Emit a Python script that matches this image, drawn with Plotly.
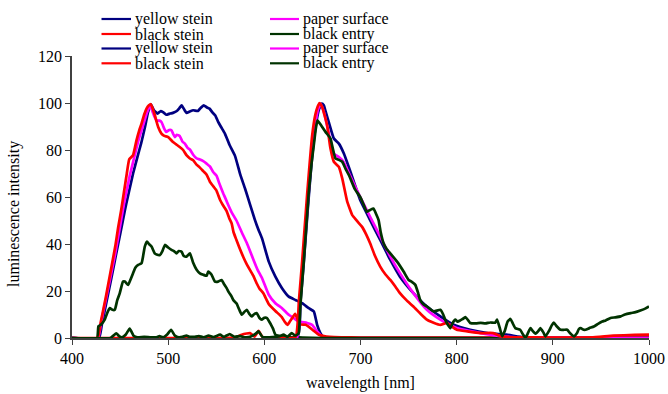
import plotly.graph_objects as go

# ---------------- data ----------------
# Excitation set 1 (blue excitation)
yellow1_wl = [400, 428, 431, 436, 441, 446, 450, 455, 458, 463.5, 468, 472, 476, 479, 482, 485, 489, 492,
              495, 498, 502, 505, 509, 512, 514, 517, 519, 523, 526, 531, 534, 537, 540, 543, 546, 549, 552, 555,
              559, 564, 569.5, 575, 580, 585, 590, 594, 597.6, 604.6, 611.5, 618.4, 625.4, 632.3, 639.3, 646.2,
              651.5, 654.9, 658.3, 661.8, 665, 700, 800, 900, 1000]
yellow1_val = [0, 0, 5.6, 15.6, 25.6, 36, 44, 54.4, 60, 70, 77, 83, 90, 96, 99.4, 97, 95.5, 96.5,
               96, 95, 95.5, 95.8, 96.6, 98, 99, 97, 95.8, 96.5, 96.9, 96.6, 98, 99, 98.2, 97.6, 96, 94.7, 92, 89.8,
               87, 82, 77.5, 69.5, 63.5, 57, 50.5, 46, 42.4, 32.5, 26.1, 21.2, 17.6, 16.2, 14.8, 12.7,
               11.3, 5.6, 2.1, 0.2, 0, 0, 0, 0, 0]

paper1_wl = [400, 427, 430, 435, 440, 445, 448, 451, 454, 457, 460, 463, 466, 469, 472, 475, 478,
             481.5, 484, 486, 488, 491, 493, 496, 498, 501, 503.5, 505, 507, 509, 512, 515, 517.4, 520, 522.6, 526,
             529.6, 533, 536.5, 540, 543.4, 547, 550.4, 553, 557.3, 560, 562.5, 566, 571, 576.5, 581.7, 588.5,
             593, 597.6, 604.6, 611.5, 618.4, 625.4, 630.6, 635.8, 644.5, 649.7, 654.9, 660, 665, 700, 800, 900,
             1000]
paper1_val = [0, 0, 6, 16, 26, 36, 43, 50, 57, 63, 69, 74, 79, 84, 88, 92, 96,
              99, 96, 94, 92.6, 92.5, 91.9, 89, 87.7, 88.5, 88.4, 87, 85.5, 86.5, 86, 83.5, 82.7, 81, 80.2, 78,
              76.4, 76, 75.3, 74.2, 73, 70.5, 69, 66, 61.5, 59, 56.6, 53.5, 50, 45, 40.5, 33.5,
              29, 25.5, 18.4, 14.8, 12.7, 9.9, 8.5, 7, 6.4, 5.6, 2.8, 0.7, 0, 0, 0, 0, 0]

blackstein1_wl = [400, 426.5, 430, 435, 440, 445, 448, 451, 454, 457, 459.5, 463.5, 467, 470,
                  472.3, 475, 477.5, 480, 482, 484, 486, 488, 489.6, 493, 496, 500, 505, 508, 512, 515.6, 519,
                  522.6, 526, 529, 533, 536.5, 540, 543.4, 547, 550, 554, 557, 560.8, 563.5, 566, 568, 571, 574,
                  578, 581, 585, 588.5, 592, 595, 599, 604.5, 611.5, 618, 621, 624, 626.5, 629, 632, 634,
                  637.5, 643, 650, 656.6, 662, 668, 680, 700, 800, 1000]
blackstein1_val = [0, 0, 7, 17, 28, 39, 47, 54, 62, 70, 76, 77.8, 84, 88.5,
                   91.2, 95, 97.6, 99, 99.5, 97.5, 95, 92, 89.8, 87, 86, 85.5, 83.4, 82.5, 81.3, 80, 77.8,
                   76.4, 75.6, 74, 72.5, 71, 69.5, 66.5, 64.5, 62.9, 58.7, 56.5, 54, 51, 48.8, 45, 41.7, 38.5,
                   34.6, 32, 29, 26.5, 23.3, 21, 19, 14.5, 11.5, 9, 7, 5.6, 7, 8.5, 10.3, 8.5,
                   5.8, 5.6, 3.5, 1.4, 0.8, 0.5, 0.3, 0.2, 0.2, 0.2]

blackentry1_wl = [400, 426, 427.5, 430, 434, 437, 439.3, 442, 444.5, 447, 449.7, 453, 455, 458.4, 461, 463.5, 466,
                  468.8, 472.3, 474, 475.7, 478, 480, 482.7, 486, 488, 491.4, 494, 496.6, 500, 503.5, 506, 508.7,
                  511, 514, 516, 519, 522.6, 526, 529.6, 533, 536.5, 540, 541.7, 545, 548.6, 552, 555.6, 558,
                  560.8, 563, 566, 568, 571, 574, 576.5, 579, 581.7, 584, 586.9, 589, 592, 595, 597.3, 600, 602.8,
                  605, 607, 609, 611.5, 614, 616.4, 620, 625, 640, 660, 1000]
blackentry1_val = [0, 0, 5, 5.6, 7.8, 11, 12.7, 12, 12, 16, 19.1, 24, 24, 22.6, 25, 27.6, 30,
                   31.1, 31.8, 35, 38.9, 41, 40, 38.9, 36, 35.5, 35.3, 37, 39.6, 38.5, 37.5, 37, 36,
                   37, 36.7, 35, 34.6, 36, 32, 29, 27.5, 26.9, 26.5, 28.3, 27, 24, 24, 24.7, 23,
                   21.2, 19.5, 17.6, 16, 14.8, 12, 9.9, 11, 12, 10.5, 9.2, 10, 10.6, 8.5, 7.8, 8.6, 8.5,
                   7, 5.6, 4, 1.4, 1, 0.8, 0.5, 0.3, 0.2, 0, 0]

# Excitation set 2 (red excitation)
yellow2_wl = [400, 634, 637.5, 641, 645, 649, 653, 657, 659.8, 661.8, 664, 667, 672.3, 677.5, 682.7, 689.6,
              699.7, 710, 720.5, 731, 741, 755, 769, 783, 797, 814, 832, 852, 870, 900, 1000]
yellow2_val = [0, 0, 15, 32, 54, 74, 89, 97.5, 99.7, 99, 96, 91.9, 84.9, 82.7, 78.5, 70.7,
               58.7, 50.2, 41.7, 33.2, 26.1, 19.1, 13.4, 9.2, 5.6, 3.5, 2.1, 1.4, 0.3, 0, 0]

paper2_wl = [400, 633.5, 637, 640.5, 645, 649, 653, 656, 658.5, 662, 666, 672, 677.5, 682.3, 689.3, 699.7,
             710, 720.5, 731, 741, 755, 769, 783, 800, 825, 846, 870, 1000]
paper2_val = [0, 0, 16, 33, 57, 77, 91, 97.5, 99.5, 96, 89, 78.5, 77, 75, 69, 60,
              51.6, 43.1, 34.6, 27.6, 19.1, 12, 7.8, 4.2, 2.1, 0.8, 0.2, 0]

blackstein2_wl = [400, 560, 570, 576.5, 581.6, 585, 590, 594, 598, 610, 632.3, 636, 639.3, 644.5, 649.7, 653,
                  655.5, 657.3, 660, 662.5, 665.3, 668.8, 672.3, 677.5, 681, 686.2, 691.4, 693, 697, 701.5, 706,
                  710, 715, 720.5, 726, 731, 736, 741, 748, 755, 762, 769, 776, 783, 790, 795, 800, 811, 825,
                  838, 846, 860, 900, 940, 963, 985, 1000]
blackstein2_val = [0, 0, 0.3, 1.4, 1.9, 2.1, 0.6, 3, 0.5, 0.2, 0.3, 16, 32.5, 61, 86, 95,
                   98.5, 100, 98.5, 95, 90.5, 80.6, 75, 72.8, 67.9, 58, 52.3, 51.5, 49.5, 47.4, 44,
                   40.3, 35, 30.4, 27, 24.7, 22, 19.1, 16, 13.4, 10.5, 7.8, 6.5, 5.6, 6.4, 4.8, 3.5, 2.8, 2.1,
                   2.1, 0.7, 0.3, 0.2, 0.3, 1, 1.3, 1.4]

blackentry2_wl = [400, 440, 443, 446, 449, 452, 456, 460, 464, 468, 475, 482, 488, 491, 495, 499, 503, 507, 511,
                  515, 519, 522, 527, 532, 537, 542, 547, 554, 558, 564, 569, 575, 580, 586, 590, 594, 598, 605,
                  612, 616, 620, 624, 628.5, 632, 634.5, 635.8, 637.5, 641, 646, 649, 651.4, 653.5, 655.2, 659,
                  663.6, 668.8, 671, 674, 677.5, 681, 684.5, 688, 694, 699.7, 703, 706.6, 710, 713.5, 716,
                  718.8, 721, 724, 727, 731, 738, 744.8, 750, 753, 757, 760, 762, 765, 769, 776, 783, 786, 788,
                  791, 793.4, 796, 798.6, 801, 803.8, 806, 809, 812, 814, 820, 825, 830, 835, 840, 842, 845,
                  847.3, 850, 853, 856, 858, 861, 866, 869, 871.6, 874, 876.8, 879, 882, 885, 887, 890, 892.4,
                  896, 899, 901, 904, 908, 912, 915, 918, 922, 925, 927, 929, 932, 934, 938, 942.7, 947, 951.4,
                  955, 960, 965, 970.5, 975, 981, 986, 991, 996, 1000]
blackentry2_val = [0, 0, 1, 2, 0.8, 0.3, 1.5, 4, 1, 0.3, 0.5, 0.3, 0.3, 0.8, 0.3, 1.5, 3.5, 1, 0.3,
                   0.5, 1, 0.5, 0.5, 0.8, 0.3, 1, 0.4, 1.4, 0.5, 1.7, 0.5, 0.8, 0.3, 0.6, 1.5, 2.8, 0.5, 0.3,
                   0.5, 0.8, 1.4, 0.5, 2.1, 1, 1.5, 2.1, 14, 32.5, 61, 74, 82, 89, 92.6, 90.5,
                   87.7, 84.9, 81, 76.4, 75.8, 75, 72, 69.3, 63.5, 60, 57, 53.7, 54.5, 55.1, 53,
                   50.2, 45, 40.3, 38, 36, 32.5, 28.3, 24.7, 24, 22.6, 19, 16.2, 14.5, 13.4, 11.3, 12, 10, 7.8,
                   5.5, 4.2, 6.5, 7.8, 7, 7.5, 8, 8.9, 7.5, 6.4, 6.2, 6.4, 6.2, 6.6, 6.5, 7.8, 4,
                   0.7, 3, 7, 8.1, 6.5, 4.2, 3.5, 1.5, 0, 2, 4.2, 3, 1.8, 3, 4.2, 2.5, 0.7,
                   3, 5.5, 6.6, 5, 3.5, 3.5, 3.5, 2, 0.7, 2, 3.8, 4.2, 3.5, 3.5, 4.2, 4.9, 6, 7,
                   7.5, 8.5, 8.8, 9.2, 10, 10.6, 11, 11.7, 12.5, 13.4]

series_names = ["yellow stein", "paper surface", "black stein", "black entry",
                "yellow stein", "paper surface", "black stein", "black entry"]
series_colors = ["#000080", "#FF00FF", "#FF0000", "#003300",
                 "#000080", "#FF00FF", "#FF0000", "#003300"]
x_ticks = [400, 500, 600, 700, 800, 900, 1000]
y_ticks = [0, 20, 40, 60, 80, 100, 120]

series_x = [yellow1_wl, paper1_wl, blackstein1_wl, blackentry1_wl,
            yellow2_wl, paper2_wl, blackstein2_wl, blackentry2_wl]
series_y = [yellow1_val, paper1_val, blackstein1_val, blackentry1_val,
            yellow2_val, paper2_val, blackstein2_val, blackentry2_val]

# ---------------- figure ----------------
W, H = 668, 394
ML, MR, MT, MB = 72, 19, 56, 56
PW, PH = W - ML - MR, H - MT - MB
FONT = "Liberation Serif"


def px(xp):
    return (xp - ML) / PW


def py(yp):
    return (H - MB - yp) / PH


fig = go.Figure()
for name, color, xs, ys in zip(series_names, series_colors, series_x, series_y):
    fig.add_trace(go.Scatter(x=xs, y=ys, mode="lines", name=name,
                             line=dict(color=color, width=2.7, shape="spline", smoothing=0.4),
                             showlegend=False))

# legend drawn as two columns of four rows (row-wise order)
legend_rows_y = [19, 34, 48.5, 63.3]
legend_cols = [(101.5, 131, 134), (270, 299, 302)]
shapes, annotations = [], []
for i, (name, color) in enumerate(zip(series_names, series_colors)):
    row, col = divmod(i, 2)
    x0, x1, xt = legend_cols[col]
    yy = legend_rows_y[row]
    shapes.append(dict(type="line", xref="paper", yref="paper",
                       x0=px(x0), x1=px(x1), y0=py(yy), y1=py(yy),
                       line=dict(color=color, width=2.2)))
    annotations.append(dict(text=name, xref="paper", yref="paper",
                            x=px(xt), y=py(yy), xanchor="left", yanchor="middle",
                            borderpad=0, showarrow=False,
                            font=dict(family=FONT, size=16, color="black")))

annotations.append(dict(text="luminescence intensity", xref="paper", yref="paper",
                        x=px(14), y=py(214), xanchor="center", yanchor="middle",
                        textangle=-90, showarrow=False,
                        font=dict(family=FONT, size=16, color="black")))

fig.update_layout(
    width=W, height=H,
    margin=dict(l=ML, r=MR, t=MT, b=MB, autoexpand=False),
    paper_bgcolor="white", plot_bgcolor="white",
    font=dict(family=FONT, size=16, color="black"),
    showlegend=False,
    shapes=shapes,
    annotations=annotations,
)
fig.update_xaxes(range=[400, 1000], tickvals=x_ticks, ticks="outside", ticklen=5,
                 tickcolor="#404040", showline=True, linecolor="#404040", linewidth=1.5,
                 showgrid=False, zeroline=False,
                 tickfont=dict(family=FONT, size=16, color="black"),
                 title=dict(text="wavelength [nm]", font=dict(family=FONT, size=16, color="black"),
                            standoff=11))
fig.update_yaxes(range=[0, 120], tickvals=y_ticks, ticks="outside", ticklen=5,
                 tickcolor="#404040", showline=True, linecolor="#404040", linewidth=1.5,
                 showgrid=False, zeroline=False,
                 tickfont=dict(family=FONT, size=16, color="black"))

fig.write_html("out.html")
